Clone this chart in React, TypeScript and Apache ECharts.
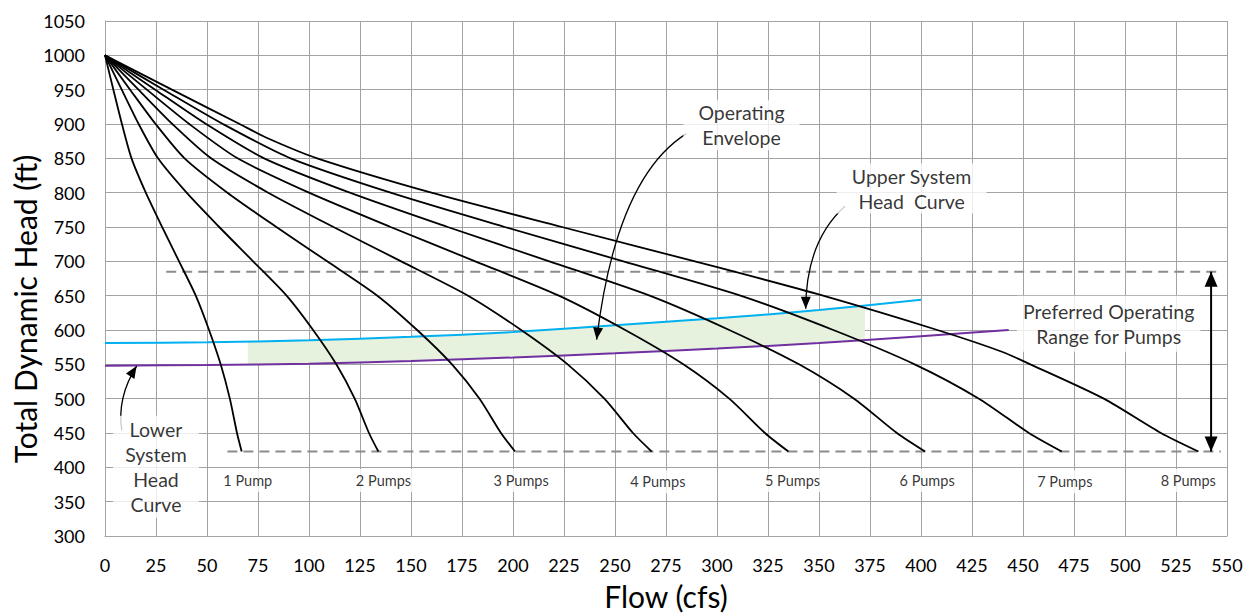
import React, { useEffect, useRef } from "react";
import * as echarts from "echarts";

// ---- Axis ranges / ticks ----
const FLOW_MIN = 0;
const FLOW_MAX = 550;
const FLOW_STEP = 25;
const HEAD_MIN = 300;
const HEAD_MAX = 1050;
const HEAD_STEP = 50;

// ---- Pump curves [flow (cfs), head (ft)] ----
const pump1 = [[0, 1000], [4.1, 950], [8.3, 900], [13, 850], [20, 800], [28, 750], [36.3, 700], [44.5, 650], [51, 600], [56.7, 550], [61.2, 500], [64.7, 450], [67, 423]];
const pump2 = [[0, 1000], [8.2, 950], [16.5, 900], [26, 850], [40, 800], [56, 750], [72.6, 700], [89, 650], [102, 600], [113.4, 550], [122.4, 500], [129.4, 450], [134, 423]];
const pump3 = [[0, 1000], [12.3, 950], [24.8, 900], [39, 850], [60, 800], [84, 750], [108.9, 700], [133.5, 650], [153, 600], [170.1, 550], [183.6, 500], [194.1, 450], [201, 423]];
const pump4 = [[0, 1000], [16.4, 950], [33, 900], [52, 850], [80, 800], [112, 750], [145.2, 700], [178, 650], [204, 600], [226.8, 550], [244.8, 500], [258.8, 450], [268, 423]];
const pump5 = [[0, 1000], [20.5, 950], [41.3, 900], [65, 850], [100, 800], [140, 750], [181.5, 700], [222.5, 650], [255, 600], [283.5, 550], [306, 500], [323.5, 450], [335, 423]];
const pump6 = [[0, 1000], [24.6, 950], [49.5, 900], [78, 850], [120, 800], [168, 750], [217.8, 700], [267, 650], [306, 600], [340.2, 550], [367.2, 500], [388.2, 450], [402, 423]];
const pump7 = [[0, 1000], [28.7, 950], [57.8, 900], [91, 850], [140, 800], [196, 750], [254.1, 700], [311.5, 650], [357, 600], [396.9, 550], [428.4, 500], [452.9, 450], [469, 423]];
const pump8 = [[0, 1000], [32.8, 950], [66, 900], [79.2, 880], [104, 850], [160, 800], [224, 750], [302, 690], [352, 650], [408, 600], [440, 568], [453.6, 550], [489.6, 500], [517.6, 450], [536, 423]];

// ---- System head curves ----
const upperSystem = [[0, 581], [50, 582], [100, 585], [150, 590], [200, 597], [250, 607], [300, 617], [350, 629], [400, 644]];
const lowerSystem = [[0, 548], [50, 549], [100, 551], [150, 555], [200, 560], [250, 566], [300, 573], [350, 581], [400, 591], [443, 600]];

// ---- Operating envelope (shaded band) ----
const bandUpper = [[70, 583], [100, 585], [150, 590], [200, 597], [250, 607], [300, 617], [350, 629], [372.5, 636]];
const bandLower = [[70, 550], [100, 551], [150, 555], [200, 560], [250, 566], [300, 573], [350, 581], [372.5, 586]];

// ---- Preferred operating range limits ----
const upperLimit = [[30, 685], [547, 685]];
const lowerLimit = [[60, 423], [547, 423]];

// ---- Pump count labels ----
const pumpLabelNames = ["1 Pump", "2 Pumps", "3 Pumps", "4 Pumps", "5 Pumps", "6 Pumps", "7 Pumps", "8 Pumps"];
const pumpLabelFlows = [70, 136.5, 204, 271, 337, 403, 470.5, 531];
const pumpLabelHeads = [381, 381, 381, 379, 381, 381, 379, 381];

// ---- Annotations ----
const noteTexts = ["Operating\nEnvelope", "Upper System\nHead  Curve", "Preferred Operating\nRange for Pumps", "Lower\nSystem\nHead\nCurve"];
const noteFlows = [312, 395.4, 492, 25];
const noteHeads = [898, 806, 609, 401];
// arrows: [x0, y0, ctrlX, ctrlY, x1, y1, doubleHeaded]
const arrowEnvelope = [285, 886, 250.6, 821.5, 241, 586, 0];
const arrowUpper = [362.7, 780.3, 343.6, 729, 343.5, 631, 0];
const arrowLower = [8.2, 453.6, 5.8, 502, 15.5, 547.4, 0];
const arrowRange = [542.2, 685, 542.2, 554, 542.2, 423, 1];

const FONT = "Lato, 'Open Sans', sans-serif";
const GRID = "#a3a3a3";

export default function App() {
  const ref = useRef<HTMLDivElement>(null);

  useEffect(() => {
    if (!ref.current) return;
    const chart = echarts.init(ref.current, undefined, { renderer: "svg" });

    const pumpCurves = [pump1, pump2, pump3, pump4, pump5, pump6, pump7, pump8];

    const head = (tip: number[], from: number[], len: number, half: number) => {
      const dx = tip[0] - from[0];
      const dy = tip[1] - from[1];
      const L = Math.hypot(dx, dy) || 1;
      const ux = dx / L;
      const uy = dy / L;
      const bx = tip[0] - ux * len;
      const by = tip[1] - uy * len;
      return {
        type: "polygon",
        shape: { points: [[tip[0], tip[1]], [bx - uy * half, by + ux * half], [bx + uy * half, by - ux * half]] },
        style: { fill: "#000" },
      };
    };

    const option: any = {
      animation: false,
      backgroundColor: "#ffffff",
      textStyle: { fontFamily: FONT },
      grid: { left: 105, right: 26, top: 21, bottom: 77, containLabel: false },
      xAxis: {
        type: "value",
        min: FLOW_MIN,
        max: FLOW_MAX,
        interval: FLOW_STEP,
        name: "Flow (cfs)",
        nameLocation: "middle",
        nameGap: 45,
        nameTextStyle: { fontSize: 30, color: "#000", fontFamily: FONT },
        axisLine: { show: true, onZero: false, lineStyle: { color: GRID, width: 1 } },
        axisTick: { show: false },
        axisLabel: { fontSize: 18, color: "#000", margin: 20, fontFamily: FONT, formatter: (v: number) => String(v) },
        splitLine: { show: true, lineStyle: { color: GRID, width: 1 } },
      },
      yAxis: {
        type: "value",
        min: HEAD_MIN,
        max: HEAD_MAX,
        interval: HEAD_STEP,
        axisLine: { show: true, onZero: false, lineStyle: { color: GRID, width: 1 } },
        axisTick: { show: false },
        axisLabel: { fontSize: 18, color: "#000", margin: 20, fontFamily: FONT, formatter: (v: number) => String(v) },
        splitLine: { show: true, lineStyle: { color: GRID, width: 1 } },
      },
      graphic: [
        {
          type: "text",
          x: 25,
          y: 309,
          rotation: Math.PI / 2,
          silent: true,
          style: {
            text: "Total Dynamic Head (ft)",
            font: `30px ${FONT}`,
            fill: "#000",
            align: "center",
            verticalAlign: "middle",
            textAlign: "center",
            textVerticalAlign: "middle",
          },
        },
      ],
      series: [
        {
          type: "custom",
          name: "band",
          silent: true,
          clip: false,
          z: 1,
          data: [bandUpper[0]],
          renderItem: (_p: any, api: any) => {
            const pts = [
              ...bandUpper.map((p) => api.coord(p)),
              ...bandLower.slice().reverse().map((p) => api.coord(p)),
            ];
            return { type: "polygon", shape: { points: pts }, style: { fill: "#e6f1de" } };
          },
        },
        {
          type: "line",
          name: "Upper System",
          data: upperSystem,
          symbol: "none",
          smooth: 0.3,
          silent: true,
          z: 2,
          lineStyle: { color: "#00b0f0", width: 2 },
        },
        {
          type: "line",
          name: "Lower System",
          data: lowerSystem,
          symbol: "none",
          smooth: 0.3,
          silent: true,
          z: 2,
          lineStyle: { color: "#7030a0", width: 2 },
        },
        ...pumpCurves.map((c, i) => ({
          type: "line",
          name: `pump${i + 1}`,
          data: c,
          symbol: "none",
          smooth: 0.25,
          silent: true,
          z: 3,
          lineStyle: { color: "#000", width: 1.8 },
        })),
        {
          type: "line",
          name: "upperLimit",
          data: upperLimit,
          symbol: "none",
          silent: true,
          z: 2,
          lineStyle: { color: "#8c8c8c", width: 2, type: [10, 6] },
        },
        {
          type: "line",
          name: "lowerLimit",
          data: lowerLimit,
          symbol: "none",
          silent: true,
          z: 2,
          lineStyle: { color: "#8c8c8c", width: 2, type: [10, 6] },
        },
        {
          type: "custom",
          name: "arrows",
          silent: true,
          clip: false,
          z: 6,
          data: [arrowEnvelope, arrowUpper, arrowLower, arrowRange],
          encode: { x: [0, 2, 4], y: [1, 3, 5] },
          renderItem: (_p: any, api: any) => {
            const p0 = api.coord([api.value(0), api.value(1)]);
            const c = api.coord([api.value(2), api.value(3)]);
            const p1 = api.coord([api.value(4), api.value(5)]);
            const both = api.value(6) === 1;
            const len = both ? 15 : 12;
            const half = both ? 6.5 : 5;
            const children: any[] = [
              {
                type: "bezierCurve",
                shape: { x1: p0[0], y1: p0[1], cpx1: c[0], cpy1: c[1], x2: p1[0], y2: p1[1] },
                style: { stroke: "#000", lineWidth: both ? 2 : 1.3, fill: "none" },
              },
              head(p1, c, len, half),
            ];
            if (both) children.push(head(p0, c, len, half));
            return { type: "group", children };
          },
        },
        {
          type: "scatter",
          name: "pumpLabels",
          silent: true,
          z: 8,
          symbolSize: 1,
          itemStyle: { color: "rgba(0,0,0,0)" },
          data: pumpLabelFlows.map((f, i) => ({
            value: [f, pumpLabelHeads[i]],
            label: { formatter: pumpLabelNames[i] },
          })),
          label: {
            show: true,
            position: "inside",
            fontSize: 14.5,
            color: "#000",
            fontFamily: FONT,
            backgroundColor: "#fff",
            padding: [4, 5],
          },
        },
        {
          type: "scatter",
          name: "notes",
          silent: true,
          z: 8,
          symbolSize: 1,
          itemStyle: { color: "rgba(0,0,0,0)" },
          data: noteFlows.map((f, i) => ({
            value: [f, noteHeads[i]],
            label: {
              formatter: noteTexts[i],
              padding: i === 2 ? [3, 6] : i === 3 ? [1, 12] : [0, 15],
            },
          })),
          label: {
            show: true,
            position: "inside",
            fontSize: 19.5,
            lineHeight: 25,
            color: "#000",
            fontFamily: FONT,
            backgroundColor: "#fff",
            align: "center",
          },
        },
      ],
    };

    chart.setOption(option);
    return () => chart.dispose();
  }, []);

  return (
    <div
      ref={ref}
      style={{ position: "fixed", left: 0, top: 0, width: 1253, height: 616, background: "#fff" }}
    />
  );
}
